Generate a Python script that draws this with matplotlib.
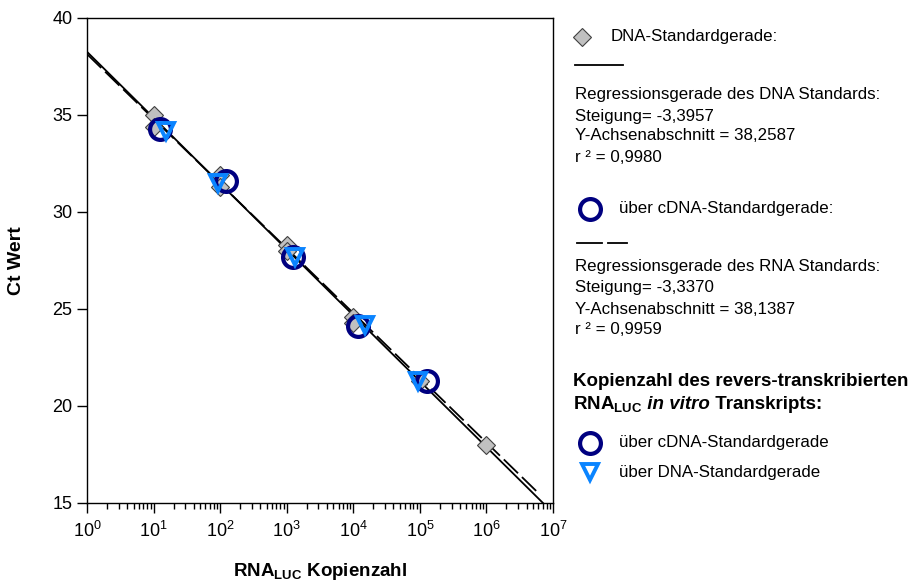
import numpy as np
import matplotlib
matplotlib.use("Agg")
import matplotlib.pyplot as plt
from matplotlib.lines import Line2D
from matplotlib.ticker import LogLocator, NullFormatter, LogFormatterMathtext

plt.rcParams['font.family'] = ['Liberation Sans', 'DejaVu Sans']
plt.rcParams['mathtext.fontset'] = 'custom'
plt.rcParams['mathtext.rm'] = 'Liberation Sans'
plt.rcParams['mathtext.it'] = 'Liberation Sans:italic'
plt.rcParams['mathtext.bf'] = 'Liberation Sans:bold'

# DNA-Standard (Kopienzahl, Ct)
dna_x = [10, 10, 100, 100, 1000, 1000, 1e4, 1e4, 1e5, 1e6]
dna_ct = [35.0, 34.4, 31.9, 31.3, 28.3, 28.0, 24.6, 24.3, 21.3, 18.0]

# revers-transkribiertes RNA_LUC, über cDNA-Standardgerade
cdna_x = [12.3, 123, 1230, 11700, 126000]
cdna_ct = [34.3, 31.6, 27.7, 24.1, 21.3]

# revers-transkribiertes RNA_LUC, über DNA-Standardgerade
rt_dna_x = [15.4, 94, 1330, 14900, 93000]
rt_dna_ct = [34.2, 31.5, 27.7, 24.2, 21.3]

# Regressionsgeraden
dna_slope, dna_icpt, dna_r2 = -3.3957, 38.2587, 0.9980
rna_slope, rna_icpt, rna_r2 = -3.3370, 38.1387, 0.9959
dna_fit_range = [1, 7.1e6]
rna_fit_range = [1, 6.3e6]

W, H = 919, 586
fig = plt.figure(figsize=(W / 100, H / 100), dpi=100)
ax = fig.add_axes([87 / W, 1 - 503 / H, (553 - 87) / W, (503 - 18) / H])

def fit_line(rng, slope, icpt):
    xs = np.logspace(np.log10(rng[0]), np.log10(rng[1]), 50)
    return xs, slope * np.log10(xs) + icpt

xs, ys = fit_line(dna_fit_range, dna_slope, dna_icpt)
ax.plot(xs, ys, color='black', lw=1.3, zorder=2)
xs, ys = fit_line(rna_fit_range, rna_slope, rna_icpt)
ax.plot(xs, ys, color='black', lw=1.3, dashes=(11, 3), zorder=2)

diamond = dict(marker='D', ms=9.5, mfc='#c0c0c0', mec='#404040', mew=0.8, ls='none')
circle = dict(marker='o', ms=15, mfc='none', mec='#000080', mew=3, ls='none')
triangle = dict(marker='v', ms=12, mfc='none', mec='#0a84ff', mew=2.8, ls='none')

ax.plot(dna_x, dna_ct, zorder=3, **diamond)
ax.plot(cdna_x, cdna_ct, zorder=4, **circle)
ax.plot(rt_dna_x, rt_dna_ct, zorder=5, **triangle)

ax.set_xscale('log')
ax.set_xlim(1, 1e7)
ax.set_ylim(15, 40)
ax.set_yticks([15, 20, 25, 30, 35, 40])
ax.xaxis.set_major_locator(LogLocator(base=10, numticks=10))
ax.xaxis.set_major_formatter(LogFormatterMathtext())
ax.xaxis.set_minor_locator(LogLocator(base=10, subs=np.arange(2, 10), numticks=20))
ax.xaxis.set_minor_formatter(NullFormatter())
ax.tick_params(axis='both', which='major', labelsize=13, length=7, width=1, direction='out')
ax.tick_params(axis='x', which='minor', length=4, width=1, direction='out')
ax.tick_params(axis='x', pad=6)
for s in ax.spines.values():
    s.set_linewidth(1)
    s.set_color('black')

ax.set_ylabel('Ct Wert', fontsize=14, fontweight='bold', labelpad=20)
ax.set_xlabel(r'$\mathbf{RNA}_{\mathbf{LUC}}$ Kopienzahl', fontsize=13.5,
              fontweight='bold', labelpad=14)

# Legende rechts neben dem Diagramm
def px(x, y):
    return x / W, 1 - y / H

def marker_at(x, y, style):
    fx, fy = px(x, y)
    fig.add_artist(Line2D([fx], [fy], transform=fig.transFigure, **style))

def seg(x0, x1, y, **kw):
    (fx0, fy), (fx1, _) = px(x0, y), px(x1, y)
    fig.add_artist(Line2D([fx0, fx1], [fy, fy], transform=fig.transFigure,
                          color='black', lw=1.3, **kw))

def txt(x, y, s, size=12.2, va='center', **kw):
    fx, fy = px(x, y)
    return fig.text(fx, fy, s, va=va, ha='left', fontsize=size, **kw)

marker_at(582, 37, diamond)
txt(611, 37, 'DNA-Standardgerade:')
seg(575, 623, 65)
txt(575, 95, 'Regressionsgerade des DNA Standards:')
txt(575, 116, f'Steigung= {dna_slope:.4f}'.replace('.', ','))
txt(575, 136, f'Y-Achsenabschnitt = {dna_icpt:.4f}'.replace('.', ','))
txt(575, 157, f'r ² = {dna_r2:.4f}'.replace('.', ','))

marker_at(590, 209, circle)
txt(619, 209, 'über cDNA-Standardgerade:')
seg(577, 602, 243)
seg(608, 627, 243)
txt(575, 266, 'Regressionsgerade des RNA Standards:')
txt(575, 287, f'Steigung= {rna_slope:.4f}'.replace('.', ','))
txt(575, 309, f'Y-Achsenabschnitt = {rna_icpt:.4f}'.replace('.', ','))
txt(575, 330, f'r ² = {rna_r2:.4f}'.replace('.', ','))

txt(573, 382, 'Kopienzahl des revers-transkribierten', size=13.5, fontweight='bold')

# zweite Titelzeile aus drei Stücken, aneinandergereiht auf einer Grundlinie
renderer = fig.canvas.get_renderer()
x0 = 573
pieces = [(r'$\mathbf{RNA}_{\mathbf{LUC}}$', dict(fontweight='bold')),
          (' in vitro', dict(fontweight='bold', fontstyle='italic')),
          (' Transkripts:', dict(fontweight='bold'))]
for s, kw in pieces:
    t = txt(x0, 409, s, size=13.5, va='baseline', **kw)
    x0 += t.get_window_extent(renderer).width

marker_at(590, 443, circle)
txt(619, 443, 'über cDNA-Standardgerade')
marker_at(590, 472, triangle)
txt(619, 472, 'über DNA-Standardgerade')

fig.savefig('out.png', dpi=100)
